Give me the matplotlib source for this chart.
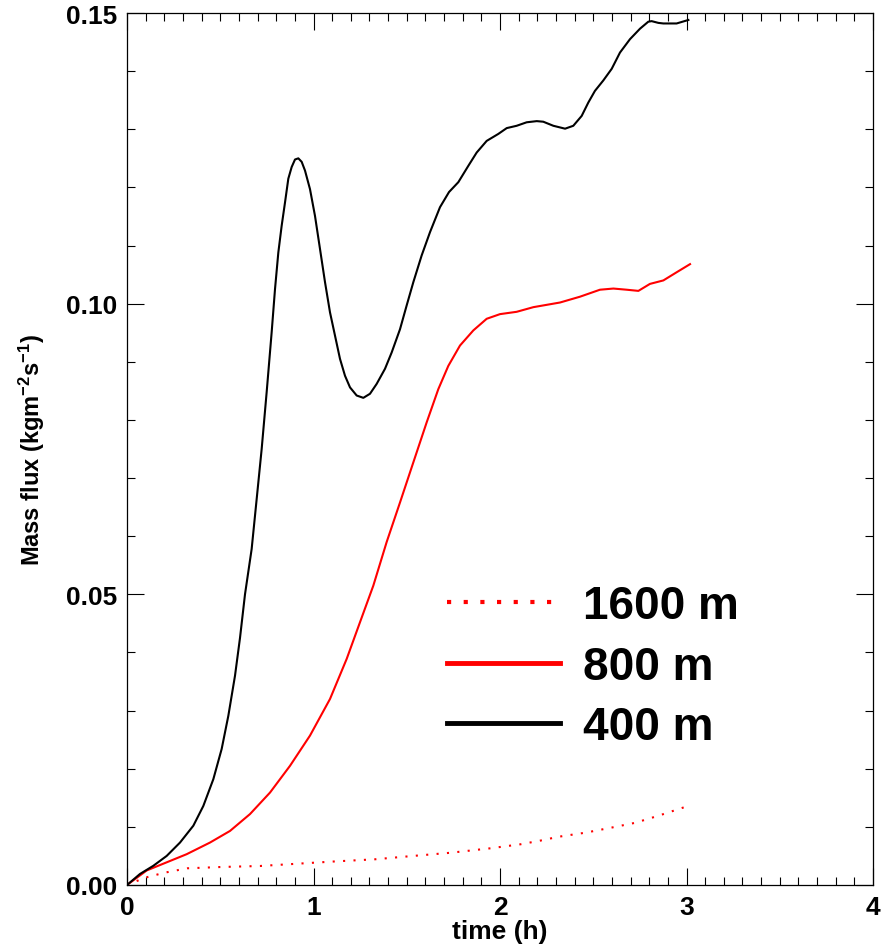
import matplotlib
matplotlib.use("Agg")
import matplotlib.pyplot as plt
from matplotlib.lines import Line2D
from matplotlib.ticker import MultipleLocator

plt.rcParams["font.family"] = ["Liberation Sans", "DejaVu Sans"]
plt.rcParams["mathtext.default"] = "regular"

# 400 m run (black)
t400 = [0.0, 0.0697, 0.141, 0.2127, 0.2842, 0.3557, 0.4093, 0.4629, 0.5076, 0.5433,
        0.5791, 0.6059, 0.6327, 0.6684, 0.6953, 0.7221, 0.7489, 0.7757, 0.7936, 0.8114,
        0.8293, 0.8472, 0.865, 0.8829, 0.9008, 0.9187, 0.9366, 0.9544, 0.9812, 1.008,
        1.0349, 1.0617, 1.0885, 1.1153, 1.1421, 1.1689, 1.1957, 1.2315, 1.2672, 1.3029,
        1.3387, 1.3834, 1.4191, 1.4638, 1.4996, 1.5353, 1.58, 1.6247, 1.6783, 1.7266,
        1.7766, 1.83, 1.875, 1.9286, 1.991, 2.036, 2.0894, 2.143, 2.197, 2.232, 2.286,
        2.349, 2.393, 2.438, 2.4736, 2.509, 2.554, 2.599, 2.6434, 2.697, 2.7507, 2.795,
        2.813, 2.849, 2.876, 2.947, 3.01]
m400 = [0.0, 0.0019, 0.0033, 0.005, 0.0073, 0.0102, 0.0136, 0.0182, 0.0234, 0.0291,
        0.036, 0.0425, 0.05, 0.0578, 0.0664, 0.075, 0.0848, 0.0951, 0.1025, 0.1088,
        0.1134, 0.1174, 0.1215, 0.1235, 0.1248, 0.125, 0.1244, 0.1229, 0.1197, 0.1151,
        0.1094, 0.1037, 0.0985, 0.0945, 0.0905, 0.0876, 0.0856, 0.0842, 0.0838, 0.0845,
        0.0862, 0.0888, 0.0916, 0.0956, 0.0997, 0.1037, 0.1083, 0.1123, 0.1166, 0.1192,
        0.1209, 0.1237, 0.126, 0.128, 0.1292, 0.1302, 0.1306, 0.1312, 0.1314, 0.1313,
        0.1306, 0.1301, 0.1306, 0.1323, 0.1346, 0.1366, 0.1384, 0.1404, 0.1432, 0.1455,
        0.1473, 0.1485, 0.1486, 0.1483, 0.1482, 0.1482, 0.1488]

# 800 m run (red solid)
t800 = [0.0, 0.1055, 0.2127, 0.3199, 0.445, 0.5523, 0.6595, 0.7668, 0.874, 0.9812,
        1.0885, 1.178, 1.2493, 1.3208, 1.3923, 1.4638, 1.5353, 1.607, 1.6693, 1.7229,
        1.7855, 1.857, 1.9286, 2.0, 2.0894, 2.179, 2.322, 2.429, 2.536, 2.608, 2.679,
        2.742, 2.804, 2.876, 2.947, 3.019]
m800 = [0.0, 0.0025, 0.0039, 0.0053, 0.0073, 0.0093, 0.0122, 0.0159, 0.0205, 0.0257,
        0.032, 0.0389, 0.0452, 0.0515, 0.059, 0.0658, 0.0727, 0.0796, 0.0853, 0.0893,
        0.0928, 0.0954, 0.0974, 0.0982, 0.0986, 0.0994, 0.1002, 0.1012, 0.1024, 0.1026,
        0.1024, 0.1022, 0.1034, 0.104, 0.1054, 0.1068]

# 1600 m run (red dotted)
t1600 = [0.0, 0.097, 0.199, 0.322, 0.507, 0.713, 0.918, 1.123, 1.329, 1.534, 1.739,
         1.945, 2.109, 2.211, 2.314, 2.458, 2.602, 2.725, 2.848, 2.99]
m1600 = [0.0, 0.00126, 0.0021, 0.00287, 0.0031, 0.00327, 0.00367, 0.00407, 0.00442,
         0.005, 0.00556, 0.0063, 0.007, 0.0076, 0.0083, 0.009, 0.0099, 0.0107, 0.0119,
         0.0134]

labels = ["1600 m", "800 m", "400 m"]

fig = plt.figure(figsize=(8.81, 9.53), dpi=100)
ax = fig.add_axes([127 / 881, 67 / 953, 746 / 881, 872 / 953])

ax.plot(t1600, m1600, color="red", lw=1.5, linestyle=(0, (1, 4)))
ax.plot(t800, m800, color="red", lw=1.5)
ax.plot(t400, m400, color="black", lw=1.5)

ax.set_xlim(0, 4)
ax.set_ylim(0, 0.15)
ax.xaxis.set_minor_locator(MultipleLocator(0.1))
ax.yaxis.set_minor_locator(MultipleLocator(0.01))
ax.set_xticks([0, 1, 2, 3, 4])
ax.set_xticklabels(["0", "1", "2", "3", "4"])
ax.set_yticks([0, 0.05, 0.10, 0.15])
ax.set_yticklabels(["0.00", "0.05", "0.10", "0.15"])
ax.tick_params(which="both", direction="in", top=True, right=True, width=0.8,
               labelsize=19, pad=7)
ax.tick_params(which="major", length=12)
ax.tick_params(which="minor", length=6)
for lab in ax.get_xticklabels() + ax.get_yticklabels():
    lab.set_fontweight("bold")
for s in ax.spines.values():
    s.set_linewidth(0.9)

ax.set_xlabel("time (h)", fontsize=19, fontweight="bold", labelpad=0)
ax.set_ylabel("Mass flux (kgm$^{-2}$s$^{-1}$)", fontsize=17, fontweight="bold", labelpad=14)

handles = [Line2D([], [], color="red", lw=3, linestyle=(0, (1, 3))),
           Line2D([], [], color="red", lw=3.5),
           Line2D([], [], color="black", lw=3.5)]
ax.legend(handles, labels, loc="upper left", bbox_to_anchor=(0.429, 0.345),
          frameon=False, prop={"size": 33, "weight": "bold"},
          handlelength=2.47, handletextpad=0.5, labelspacing=0.36,
          borderaxespad=0, borderpad=0)

fig.savefig("out.png", dpi=100)
